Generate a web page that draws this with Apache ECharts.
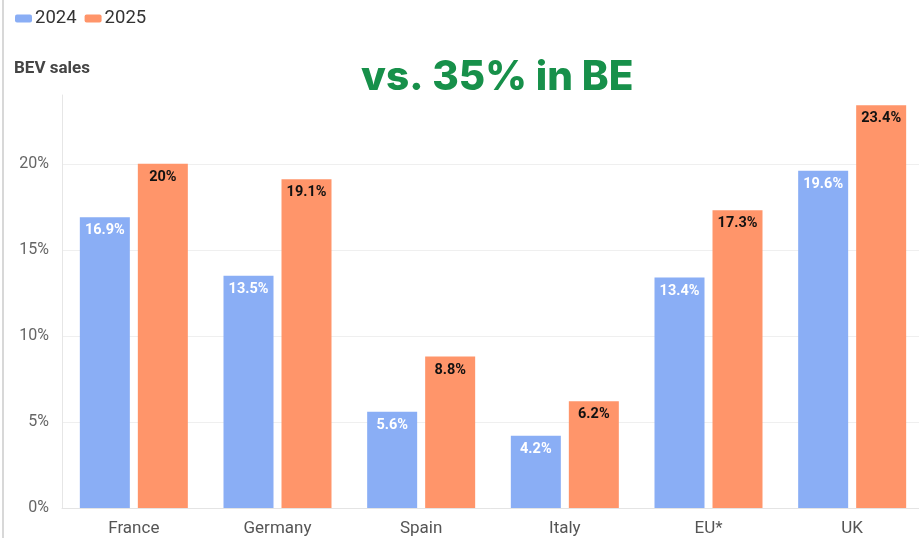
<!DOCTYPE html>
<html>
<head>
<meta charset="utf-8" />
<title>BEV sales</title>
<script src="https://cdn.jsdelivr.net/npm/echarts@6/dist/echarts.min.js"></script>
<style>
  html, body { margin: 0; padding: 0; background: #fff; }
  #chart { width: 919px; height: 538px; }
</style>
</head>
<body>
<div id="chart"></div>
<script type="text/javascript">
  // data
  var countries = ['France', 'Germany', 'Spain', 'Italy', 'EU*', 'UK'];
  var sales2024 = [16.9, 13.5, 5.6, 4.2, 13.4, 19.6];
  var sales2025 = [20, 19.1, 8.8, 6.2, 17.3, 23.4];

  var myChart = echarts.init(document.getElementById('chart'));

  function barLabel(color) {
    return {
      show: true,
      position: 'insideTop',
      distance: 6,
      color: color,
      fontWeight: 'bold',
      fontSize: 14.5,
      fontFamily: 'Roboto',
      formatter: '{c}%'
    };
  }

  var option = {
    animation: false,
    textStyle: { fontFamily: 'Roboto' },
    legend: {
      left: 10,
      top: 4,
      itemWidth: 17,
      itemHeight: 8,
      itemGap: 8,
      icon: 'roundRect',
      textStyle: { fontSize: 18.5, color: '#333', padding: [0, 0, 0, -2] },
      data: ['2024', '2025']
    },
    graphic: [
      {
        type: 'rect',
        shape: { x: 2, y: 0, width: 2, height: 538 },
        style: { fill: '#d8d8d8' }
      },
      {
        type: 'text',
        left: 14,
        top: 60,
        style: { text: 'BEV sales', font: 'bold 17px Roboto', fill: '#444' }
      },
      {
        type: 'text',
        left: 361,
        top: 57,
        style: { text: 'vs. 35% in BE', font: '800 40.5px Inter', fill: '#17904a' }
      }
    ],
    grid: {
      left: 62,
      right: -5,
      top: 95,
      bottom: 30,
      containLabel: false,
      outerBoundsMode: 'none'
    },
    xAxis: {
      type: 'category',
      data: countries,
      axisLine: { lineStyle: { color: '#e4e4e4' } },
      axisTick: { alignWithLabel: true, length: 4, lineStyle: { color: '#e4e4e4' } },
      axisLabel: { fontSize: 17, color: '#555', margin: 12 }
    },
    yAxis: {
      type: 'value',
      min: 0,
      max: 24,
      interval: 5,
      axisLine: { show: true, lineStyle: { color: '#e6e6e6' } },
      axisTick: { show: false },
      axisLabel: {
        fontSize: 16,
        color: '#666',
        margin: 13,
        showMaxLabel: false,
        formatter: function (v) { return v === 24 ? '' : v + '%'; }
      },
      splitLine: { showMaxLine: false, lineStyle: { color: '#efefef' } }
    },
    series: [
      {
        name: '2024',
        type: 'bar',
        data: sales2024,
        barWidth: 50,
        barGap: '16%',
        itemStyle: { color: '#8aaef5' },
        label: barLabel('#fff')
      },
      {
        name: '2025',
        type: 'bar',
        data: sales2025,
        barWidth: 50,
        itemStyle: { color: '#ff956a' },
        label: barLabel('#111')
      }
    ]
  };

  myChart.setOption(option);
</script>
</body>
</html>
